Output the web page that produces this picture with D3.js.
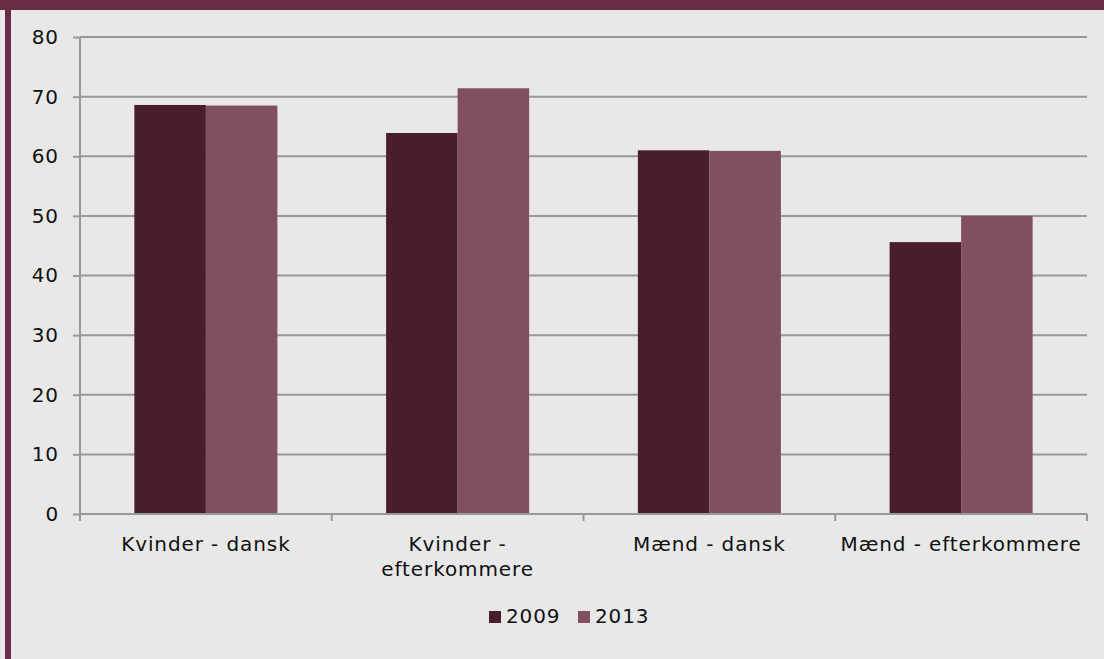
<!DOCTYPE html>
<html><head><meta charset="utf-8">
<script src="https://cdn.jsdelivr.net/npm/d3@7/dist/d3.min.js"></script>
<style>
html,body{margin:0;padding:0;background:#e8e8e8;}
svg{display:block;font-family:"DejaVu Sans",Verdana,sans-serif;}
svg text{letter-spacing:0.9px;}
</style></head>
<body>
<svg id="c" width="1104" height="659"></svg>
<script>
const categories = [["Kvinder - dansk"], ["Kvinder -", "efterkommere"], ["Mænd - dansk"], ["Mænd - efterkommere"]];
const seriesNames = ["2009", "2013"];
const values2009 = [68.6, 63.9, 61.0, 45.6];
const values2013 = [68.5, 71.4, 60.9, 50.0];
const yTicks = [0, 10, 20, 30, 40, 50, 60, 70, 80];
const colors = ["#481e2e", "#804f60"];

(function(){
const FS = 20;
const svg = d3.select("#c");
svg.append("rect").attr("x",0).attr("y",0).attr("width",1104).attr("height",659).attr("fill","#e8e8e8");
svg.append("rect").attr("x",0).attr("y",0).attr("width",1104).attr("height",10).attr("fill","#6b2c47");
svg.append("rect").attr("x",5).attr("y",10).attr("width",6).attr("height",649).attr("fill","#6b2c47");

const pl = 80, pr = 1087, pt = 37, pb = 514;
const x = d3.scaleBand().domain(d3.range(categories.length)).range([pl, pr]).paddingInner(0).paddingOuter(0);
const y = d3.scaleLinear().domain([0, 80]).range([pb, pt]);

// gridlines
svg.append("g").selectAll("line").data(yTicks.filter(d=>d>0)).join("line")
  .attr("x1", pl).attr("x2", pr).attr("y1", d=>y(d)).attr("y2", d=>y(d))
  .attr("stroke", "#989898").attr("stroke-width", 2);

// y axis
const yAxis = d3.axisLeft(y).tickValues(yTicks).tickSize(7).tickPadding(14);
const gy = svg.append("g").attr("transform", `translate(${pl},0)`).call(yAxis);
gy.attr("font-size", FS).attr("font-family","DejaVu Sans, Verdana, sans-serif");
gy.select(".domain").attr("stroke","#989898").attr("stroke-width",2).attr("d", `M0,${pt}V${pb+7}`);
gy.selectAll(".tick line").attr("stroke","#989898").attr("stroke-width",2);
gy.selectAll(".tick text").attr("font-size",FS).attr("fill","#111");

// bars
const inner = d3.scaleBand().domain(d3.range(seriesNames.length)).range([0, x.bandwidth()]).paddingOuter(0.76).paddingInner(0);
const series = [values2009, values2013];
series.forEach((vals, si) => {
  svg.append("g").selectAll("rect").data(vals).join("rect")
    .attr("x", (d,i)=>x(i)+inner(si)).attr("width", inner.bandwidth())
    .attr("y", d=>y(d)).attr("height", d=>y(0)-y(d))
    .attr("fill", colors[si]);
});

// x axis
svg.append("line").attr("x1", pl).attr("x2", pr).attr("y1", pb).attr("y2", pb).attr("stroke","#989898").attr("stroke-width",2);
const bounds = d3.range(categories.length+1).map(i => pl + i*x.step());
svg.append("g").selectAll("line").data(bounds).join("line")
  .attr("x1", d=>d).attr("x2", d=>d).attr("y1", pb).attr("y2", pb+7)
  .attr("stroke","#989898").attr("stroke-width",2);

const lbl = svg.append("g").selectAll("text").data(categories).join("text")
  .attr("x", (d,i)=>x(i)+x.bandwidth()/2).attr("y", 551)
  .attr("text-anchor","middle").attr("font-size",FS).attr("fill","#111");
lbl.each(function(d){
  const t = d3.select(this);
  d.forEach((line,k)=>t.append("tspan").attr("x", t.attr("x")).attr("dy", k===0?0:25).text(line));
});

// legend
const lg = svg.append("g").attr("transform","translate(489,623)");
const items = [{n:seriesNames[0], c:colors[0], x:0}, {n:seriesNames[1], c:colors[1], x:89}];
items.forEach(it=>{
  lg.append("rect").attr("x", it.x).attr("y",-12).attr("width",12).attr("height",12).attr("fill",it.c);
  lg.append("text").attr("x", it.x+17).attr("y",0).attr("font-size",FS).attr("fill","#111").text(it.n);
});
})();
</script>
</body></html>
